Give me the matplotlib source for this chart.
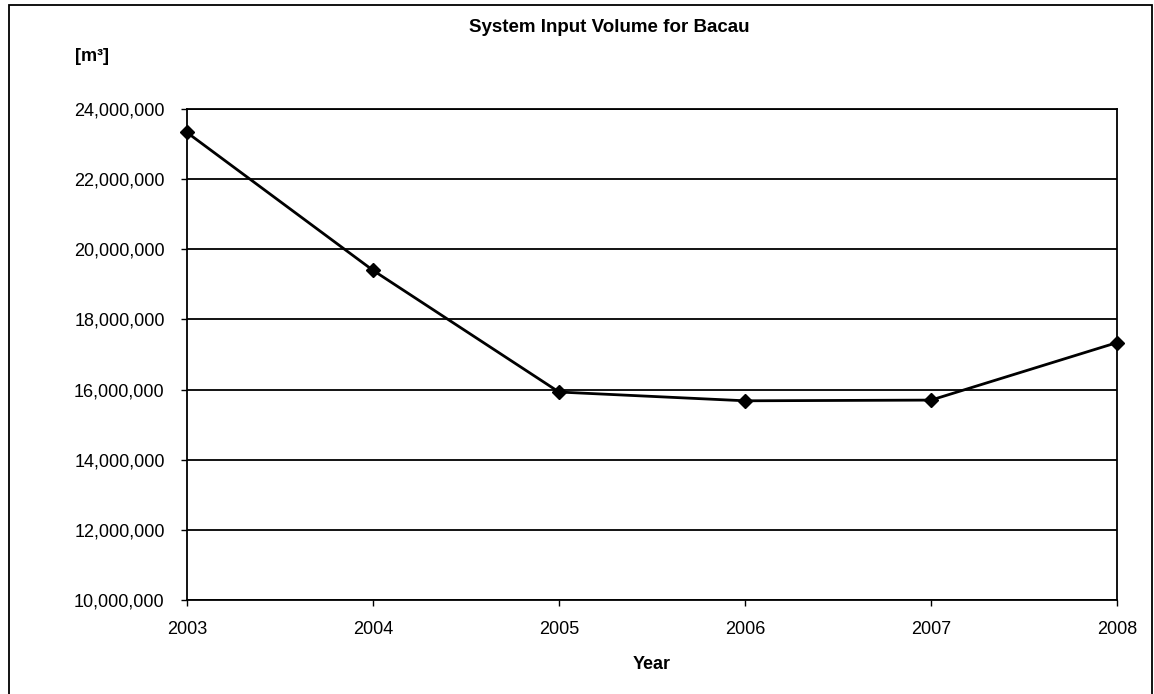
import matplotlib
matplotlib.use('Agg')
import matplotlib.pyplot as plt
from matplotlib.patches import Rectangle
from matplotlib.ticker import FuncFormatter, MultipleLocator

plt.rcParams['font.family'] = ['Liberation Sans', 'DejaVu Sans']

# System input volume, Bacau
years = [2003, 2004, 2005, 2006, 2007, 2008]
volume = [23330000, 19400000, 15930000, 15680000, 15700000, 17340000]

fig = plt.figure(figsize=(11.54, 6.94), dpi=100)
fig.patch.set_facecolor('white')

# outer chart frame
fig.patches.append(Rectangle((0.0078, -0.02), 0.9905, 1.0128,
                             transform=fig.transFigure, fill=False,
                             edgecolor='black', linewidth=1.3))

ax = fig.add_axes([0.162, 0.1354, 0.806, 0.7076])
ax.set_xlim(2003, 2008)
ax.set_ylim(10000000, 24000000)
ax.yaxis.set_major_locator(MultipleLocator(2000000))
ax.xaxis.set_major_locator(MultipleLocator(1))
ax.yaxis.set_major_formatter(FuncFormatter(lambda v, p: f'{v:,.0f}'))
ax.xaxis.set_major_formatter(FuncFormatter(lambda v, p: f'{v:.0f}'))

ax.grid(axis='y', color='black', linewidth=1.3)
ax.set_axisbelow(True)
for s in ax.spines.values():
    s.set_color('black')
    s.set_linewidth(1.3)

ax.tick_params(axis='both', direction='out', length=4, width=1, colors='black',
               labelsize=13)
ax.tick_params(axis='y', pad=12)
ax.tick_params(axis='x', pad=11)

ax.plot(years, volume, color='black', linewidth=2.0, marker='D', markersize=7.5,
        clip_on=False, zorder=5)

ax.set_xlabel('Year', fontsize=13, fontweight='bold', labelpad=13)

fig.text(0.528, 0.96, 'System Input Volume for Bacau', ha='center', va='center',
         fontsize=13.5, fontweight='bold')
fig.text(0.080, 0.918, '[m³]', ha='center', va='center',
         fontsize=13, fontweight='bold')

plt.savefig('out.png', dpi=100, facecolor='white')
